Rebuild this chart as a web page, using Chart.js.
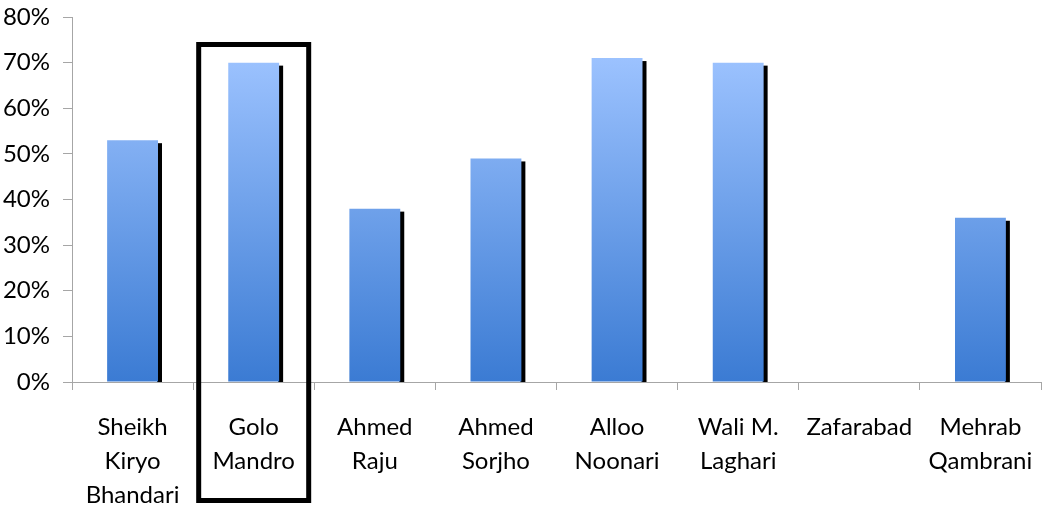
<!DOCTYPE html>
<html>
<head>
<meta charset="utf-8">
<script src="https://cdn.jsdelivr.net/npm/chart.js@4"></script>
<style>
  html, body { margin: 0; padding: 0; background: #fff; }
  #wrap { width: 1043px; height: 507px; }
</style>
</head>
<body>
<div id="wrap"><canvas id="villageChart" width="1043" height="507"></canvas></div>
<script>
const villages = [
  ["Sheikh", "Kiryo", "Bhandari"],
  ["Golo", "Mandro"],
  ["Ahmed", "Raju"],
  ["Ahmed", "Sorjho"],
  ["Alloo", "Noonari"],
  ["Wali M.", "Laghari"],
  ["Zafarabad"],
  ["Mehrab", "Qambrani"]
];
const percentages = [53, 70, 38, 49, 71, 70, 0, 36];
const highlighted = 1; // Golo Mandro is boxed

// black drop shadow on the right edge of each bar
const barShadow = {
  id: "barShadow",
  beforeDatasetsDraw(chart) {
    const ctx = chart.ctx;
    const base = chart.scales.y.getPixelForValue(0);
    ctx.save();
    ctx.fillStyle = "#000";
    chart.getDatasetMeta(0).data.forEach(bar => {
      if (base - bar.y < 4) return;
      ctx.fillRect(bar.x + bar.width / 2 - 1, bar.y + 3, 5, base - bar.y - 3);
    });
    ctx.restore();
  }
};

// gradient fill for bars
const barGradient = {
  id: "barGradient",
  beforeDatasetsDraw(chart) {
    const ctx = chart.ctx;
    const y = chart.scales.y;
    const g = ctx.createLinearGradient(0, y.getPixelForValue(72), 0, y.getPixelForValue(0));
    g.addColorStop(0, "#9dc3ff");
    g.addColorStop(1, "#3b7bd3");
    chart.data.datasets[0].backgroundColor = g;
    chart.getDatasetMeta(0).data.forEach(bar => { bar.options.backgroundColor = g; });
  }
};

// box around the highlighted category
const highlightBox = {
  id: "highlightBox",
  afterDraw(chart) {
    const ctx = chart.ctx;
    const cx = chart.scales.x.getPixelForValue(highlighted);
    ctx.save();
    ctx.strokeStyle = "#000";
    ctx.lineWidth = 5;
    ctx.strokeRect(cx - 55, 44.5, 110, 456);
    ctx.restore();
  }
};

new Chart(document.getElementById("villageChart").getContext("2d"), {
  type: "bar",
  data: {
    labels: villages,
    datasets: [{
      data: percentages,
      backgroundColor: "#6a9ee8",
      borderWidth: 0,
      categoryPercentage: 1,
      barPercentage: 0.42
    }]
  },
  options: {
    responsive: false,
    animation: false,
    layout: { padding: { top: 17, right: 2, left: 0, bottom: 0 } },
    plugins: { legend: { display: false }, tooltip: { enabled: false } },
    scales: {
      x: {
        afterFit(scale) { scale.height = 125; scale.paddingLeft = 0; scale.paddingRight = 0; },
        grid: { drawOnChartArea: false, drawTicks: true, tickLength: 8, color: "#a6a6a6", offset: true },
        border: { color: "#a6a6a6", width: 1 },
        ticks: {
          color: "#000",
          padding: 20,
          maxRotation: 0,
          autoSkip: false,
          font: { family: "Lato", size: 24, lineHeight: 1.42 }
        }
      },
      y: {
        min: 0,
        max: 80,
        afterFit(scale) { scale.width = 72; scale.paddingTop = 0; scale.paddingBottom = 0; },
        grid: { drawOnChartArea: false, drawTicks: true, tickLength: 9, color: "#a6a6a6" },
        border: { color: "#a6a6a6", width: 1 },
        ticks: {
          stepSize: 10,
          color: "#000",
          padding: 13,
          font: { family: "Lato", size: 24 },
          callback: v => v + "%"
        }
      }
    }
  },
  plugins: [barGradient, barShadow, highlightBox]
});
</script>
</body>
</html>
